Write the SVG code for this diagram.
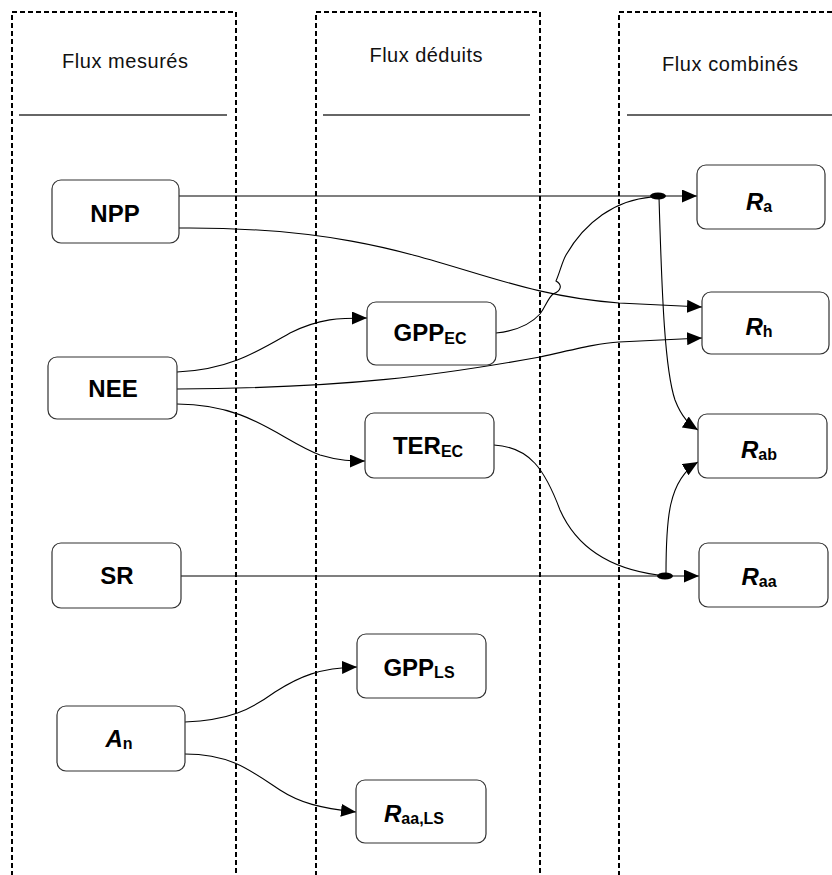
<svg xmlns="http://www.w3.org/2000/svg" width="832" height="875" viewBox="0 0 832 875">
  <style>
    .col { fill: none; stroke: #000; stroke-width: 2; stroke-dasharray: 5 3; }
    .rule { stroke: #333; stroke-width: 1.3; }
    .head { font-family: "Liberation Sans", Arial, sans-serif; font-size: 20px; fill: #111; text-anchor: middle; }
    .box { fill: #fff; stroke: #333; stroke-width: 1.2; }
    .lbl { font-family: "Liberation Sans", Arial, sans-serif; font-size: 24px; font-weight: bold; fill: #000; text-anchor: middle; }
    .sub { font-size: 16px; }
    .link { fill: none; stroke: #000; stroke-width: 1.1; }
    .arr { marker-end: url(#tip); }
  </style>
  <defs>
    <marker id="tip" markerUnits="userSpaceOnUse" markerWidth="15" markerHeight="13" refX="15" refY="6.5" orient="auto">
      <path d="M0,0 L15,6.5 L0,13 z" fill="#000"/>
    </marker>
  </defs>

  <rect width="832" height="875" fill="#fff"/>

  <!-- column frames -->
  <g id="columns">
    <rect class="col" x="12" y="12" width="224" height="880"/>
    <rect class="col" x="316" y="12" width="224" height="880"/>
    <rect class="col" x="619" y="12" width="240" height="880"/>
    <line class="rule" x1="19" y1="115" x2="227" y2="115"/>
    <line class="rule" x1="323" y1="115" x2="530" y2="115"/>
    <line class="rule" x1="627" y1="115" x2="832" y2="115"/>
    <text class="head" x="125" y="68" textLength="126" lengthAdjust="spacing">Flux mesurés</text>
    <text class="head" x="426" y="62" textLength="113" lengthAdjust="spacing">Flux déduits</text>
    <text class="head" x="730" y="71" textLength="136" lengthAdjust="spacing">Flux combinés</text>
  </g>

  <!-- connectors -->
  <g id="connectors">
    <path class="link arr" d="M179,196 L697,196"/>
    <path class="link arr" d="M179,228 C 420,226 470,292 619,303 L702,307"/>
    <path class="link arr" d="M177,372 C 230,370 260,350 290,333 C 320,318 340,318 367,318"/>
    <path class="link arr" d="M177,389 C 350,388 440,375 540,357 C 580,348 600,343 619,342 L702,338"/>
    <path class="link arr" d="M177,404 C 250,404 280,440 320,455 C 340,461 352,461 365,461"/>
    <path class="link" d="M496,333 C 515,331 530,325 540,314 C 546,306 548,298 553,294 C 561,291 563,285 556,281 C 560,272 562,262 566,255 C 585,222 615,200 652,197"/>
    <path class="link arr" d="M659,197 C 662,300 665,370 675,400 C 682,418 690,425 698,430"/>
    <path class="link" d="M494,445 C 530,447 545,470 560,510 C 580,555 620,570 658,575"/>
    <path class="link arr" d="M181,576 L699,576"/>
    <path class="link arr" d="M666,574 C 666,520 668,480 698,462"/>
    <path class="link arr" d="M185,722 C 230,720 250,710 275,692 C 300,676 320,668 357,667"/>
    <path class="link arr" d="M185,754 C 230,754 250,770 280,790 C 300,803 320,808 356,812"/>
    <ellipse cx="658" cy="196" rx="8" ry="3.5" fill="#000"/>
    <ellipse cx="665" cy="576" rx="8" ry="3.5" fill="#000"/>
  </g>

  <!-- measured fluxes -->
  <g id="npp">
    <rect class="box" x="52" y="180" width="127" height="63" rx="9"/>
    <text class="lbl" x="115" y="222">NPP</text>
  </g>
  <g id="nee">
    <rect class="box" x="48" y="357" width="129" height="62" rx="9"/>
    <text class="lbl" x="113" y="397">NEE</text>
  </g>
  <g id="sr">
    <rect class="box" x="52" y="543" width="129" height="65" rx="9"/>
    <text class="lbl" x="117" y="584">SR</text>
  </g>
  <g id="an">
    <rect class="box" x="57" y="706" width="128" height="65" rx="9"/>
    <text class="lbl" x="119" y="747"><tspan font-style="italic">A</tspan><tspan class="sub" dy="2">n</tspan></text>
  </g>

  <!-- derived fluxes -->
  <g id="gpp-ec">
    <rect class="box" x="367" y="302" width="129" height="63" rx="9"/>
    <text class="lbl" x="430" y="341">GPP<tspan class="sub" dy="3">EC</tspan></text>
  </g>
  <g id="ter-ec">
    <rect class="box" x="365" y="413" width="129" height="65" rx="9"/>
    <text class="lbl" x="428" y="454">TER<tspan class="sub" dy="3">EC</tspan></text>
  </g>
  <g id="gpp-ls">
    <rect class="box" x="357" y="634" width="129" height="64" rx="9"/>
    <text class="lbl" x="419" y="676">GPP<tspan class="sub" dy="2">LS</tspan></text>
  </g>
  <g id="raa-ls">
    <rect class="box" x="356" y="780" width="130" height="63" rx="9"/>
    <text class="lbl" x="414" y="822"><tspan font-style="italic">R</tspan><tspan class="sub" dy="2">aa,LS</tspan></text>
  </g>

  <!-- combined fluxes -->
  <g id="ra">
    <rect class="box" x="697" y="165" width="128" height="64" rx="9"/>
    <text class="lbl" x="759" y="210"><tspan font-style="italic">R</tspan><tspan class="sub" dy="2">a</tspan></text>
  </g>
  <g id="rh">
    <rect class="box" x="702" y="292" width="127" height="62" rx="9"/>
    <text class="lbl" x="759" y="335"><tspan font-style="italic">R</tspan><tspan class="sub" dy="2">h</tspan></text>
  </g>
  <g id="rab">
    <rect class="box" x="698" y="414" width="129" height="64" rx="9"/>
    <text class="lbl" x="759" y="458"><tspan font-style="italic">R</tspan><tspan class="sub" dy="2">ab</tspan></text>
  </g>
  <g id="raa">
    <rect class="box" x="699" y="543" width="129" height="64" rx="9"/>
    <text class="lbl" x="759" y="585"><tspan font-style="italic">R</tspan><tspan class="sub" dy="2">aa</tspan></text>
  </g>
</svg>
